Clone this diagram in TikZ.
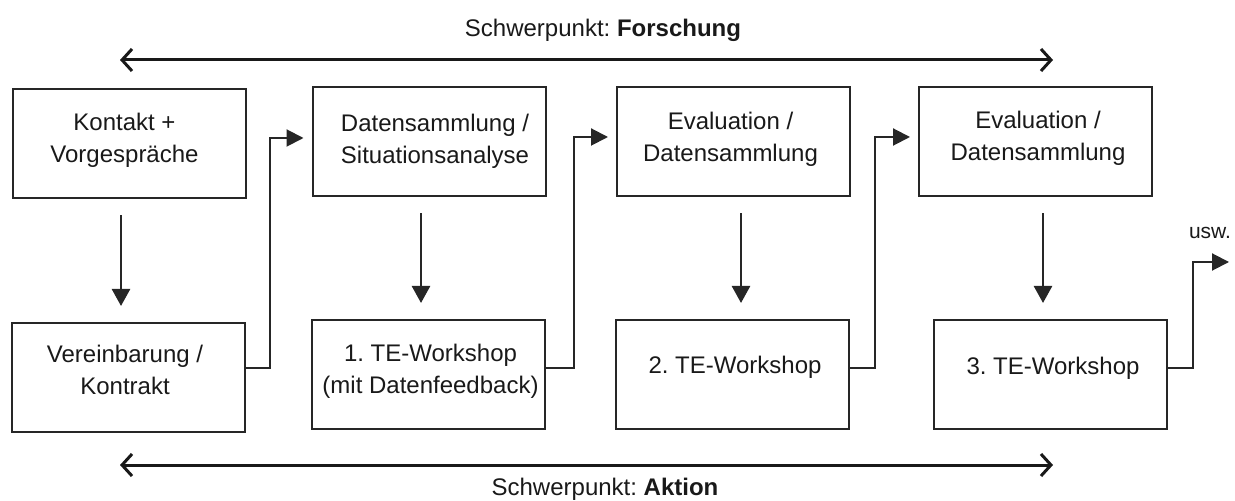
\documentclass[tikz,border=0pt]{standalone}
\usepackage{fontspec}
\setmainfont{Liberation Sans}
\usetikzlibrary{arrows.meta}
\frenchspacing

\begin{document}
\begin{tikzpicture}[
  x=0.5pt, y=-0.5pt,
  box/.style={draw=black!85, line width=1pt, minimum width=116.5pt,
              minimum height=54.5pt, inner sep=0pt},
  lbl/.style={font=\fontsize{12}{16}\selectfont, align=center,
              text=black!90, inner sep=0pt},
  head/.style={font=\fontsize{12}{16}\selectfont, text=black!90, inner sep=0pt},
  down/.style={draw=black!85, line width=1.3pt,
               -{Triangle[length=8.5pt,width=9pt]},
               shorten <=8pt, shorten >=8pt},
  elbow/.style={draw=black!85, line width=1pt,
                -{Triangle[length=8.5pt,width=8.5pt]}, shorten >=4pt},
  span/.style={draw=black!90, line width=1.5pt,
               {Straight Barb[length=5pt,width=11pt]}-{Straight Barb[length=5pt,width=11pt]}}
]
\useasboundingbox (0,0) rectangle (1235,501);

% research emphasis
\node[head] (ftop) at (603,30) {Schwerpunkt: \textbf{Forschung}};
\coordinate (fl) at (120,60);
\coordinate (fr) at (1053,60);
\draw[span] (fl) -- (fr);

% upper row of boxes
\node[box] (b1) at (129.5,144) {};
\node[box] (b2) at (429,142) {};
\node[box] (b3) at (733.5,142) {};
\node[box] (b4) at (1035.5,142) {};

% lower row of boxes
\node[box] (b5) at (128.5,377.5) {};
\node[box] (b6) at (428,374.5) {};
\node[box] (b7) at (732.5,374.5) {};
\node[box] (b8) at (1050.5,374.5) {};

% box texts
\node[lbl] (t1) at (124.5,140) {\strut Kontakt +\\Vorgespräche\strut};
\node[lbl] (t2) at (435,141) {\strut Datensammlung /\\Situationsanalyse\strut};
\node[lbl] (t3) at (730.5,139.5) {\strut Evaluation /\\Datensammlung\strut};
\node[lbl] (t4) at (1038,138.5) {\strut Evaluation /\\Datensammlung\strut};
\node[lbl] (t5) at (125,372) {\strut Vereinbarung /\\Kontrakt\strut};
\node[lbl] (t6) at (430.5,371.5) {\strut 1. TE-Workshop\\(mit Datenfeedback)\strut};
\node[lbl] (t7) at (735,367.5) {\strut 2. TE-Workshop\strut};
\node[lbl] (t8) at (1053,368.5) {\strut 3. TE-Workshop\strut};

% downward steps
\draw[down] ([xshift=-4.25pt]b1.south) -- ([xshift=-4.25pt]b1.south |- b5.north);
\draw[down] ([xshift=-4pt]b2.south) -- ([xshift=-4pt]b2.south |- b6.north);
\draw[down] ([xshift=3.75pt]b3.south) -- ([xshift=3.75pt]b3.south |- b7.north);
\draw[down] ([xshift=3.75pt]b4.south) -- ([xshift=3.75pt]b4.south |- b8.north);

% steps back up to the next cycle
\draw[elbow] ([yshift=4.75pt]b5.east) -- ++(12pt,0) |- ([yshift=2pt]b2.west);
\draw[elbow] ([yshift=3.25pt]b6.east) -- ++(14pt,0) |- ([yshift=2.5pt]b3.west);
\draw[elbow] ([yshift=3.25pt]b7.east) -- ++(12.5pt,0) |- ([yshift=2.5pt]b4.west);
\coordinate (uend) at (1229,262);
\draw[elbow, shorten >=0pt] ([yshift=3.25pt]b8.east) -- ++(12.5pt,0) |- (uend);
\node[font=\fontsize{10.5}{12}\selectfont, text=black!90, inner sep=0pt] (usw) at (1210,233) {usw.};

% action emphasis
\coordinate (al) at (120,465);
\coordinate (ar) at (1053,465);
\draw[span] (al) -- (ar);
\node[head] (abot) at (605,489) {Schwerpunkt: \textbf{Aktion}};
\end{tikzpicture}
\end{document}
